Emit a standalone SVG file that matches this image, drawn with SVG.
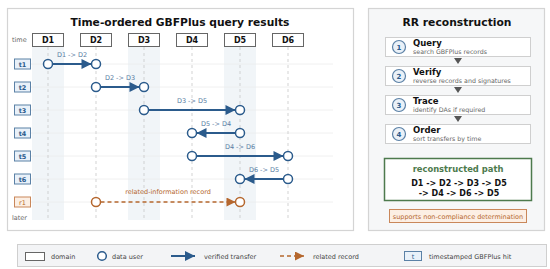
<svg xmlns="http://www.w3.org/2000/svg" width="550" height="269" viewBox="0 0 550 269">
<defs>
<marker id="ab" viewBox="0 0 10 10" refX="10" refY="5" markerWidth="13" markerHeight="10" markerUnits="userSpaceOnUse" orient="auto"><path d="M0,0 L10,5 L0,10 Z" fill="#2b5b8c"/></marker>
<marker id="ao" viewBox="0 0 10 10" refX="10" refY="5" markerWidth="11" markerHeight="9" markerUnits="userSpaceOnUse" orient="auto"><path d="M0,0 L10,5 L0,10 Z" fill="#b5672e"/></marker>
</defs>
<style>
text{font-family:"DejaVu Sans","Liberation Sans",sans-serif}
.panel{fill:#fff;stroke:#d4d4d4;stroke-width:1.2}
.title{font-size:11px;font-weight:bold;fill:#111;text-anchor:middle}
.dom{fill:#fff;stroke:#666;stroke-width:1}
.domt{font-size:8px;font-weight:bold;fill:#111;text-anchor:middle}
.band{fill:#eef2f6;opacity:0.8}
.vl{stroke:#c8c8c8;stroke-width:0.8;stroke-dasharray:3,3}
.hl{stroke:#ececec;stroke-width:0.8}
.tb{fill:#e9f1f9;stroke:#5b81a6;stroke-width:1}
.tt{font-size:6.5px;fill:#2b5b8c;text-anchor:middle;font-weight:bold}
.ob{fill:#fcefe4;stroke:#c9875a;stroke-width:1}
.ot{font-size:6.5px;fill:#b5672e;text-anchor:middle}
.u{fill:#fff;stroke:#2b5b8c;stroke-width:1.5}
.uo{fill:#fff;stroke:#b5672e;stroke-width:1.5}
.tr{stroke:#2b5b8c;stroke-width:2;fill:none}
.rr{stroke:#b5672e;stroke-width:1.5;stroke-dasharray:4,3;fill:none}
.al{font-size:6.5px;fill:#5a7ea3;text-anchor:middle}
.small{font-size:6.5px;fill:#666}
.step{fill:#fff;stroke:#cfcfcf;stroke-width:1}
.nc{fill:#eaf1f8;stroke:#5b81a6;stroke-width:1.2}
.nt{font-size:7px;font-weight:bold;fill:#2b5b8c;text-anchor:middle}
.sh{font-size:8.5px;font-weight:bold;fill:#111}
.ss{font-size:6.3px;fill:#666}
.tri{fill:#555}
.leg{font-size:6.5px;fill:#444}
</style>
<rect class="panel" x="7.5" y="8.5" width="346" height="222"/>
<rect x="368.5" y="8.5" width="176" height="222" fill="#f6f7f8" stroke="#d4d4d4" stroke-width="1.2"/>
<text class="title" x="180" y="26" textLength="219" lengthAdjust="spacingAndGlyphs">Time-ordered GBFPlus query results</text>
<text class="title" x="457" y="26" textLength="109" lengthAdjust="spacingAndGlyphs">RR reconstruction</text>
<g id="grid">
<rect class="band" x="32" y="47" width="32" height="173"/>
<rect class="band" x="128" y="47" width="32" height="173"/>
<rect class="band" x="224" y="47" width="32" height="173"/>
<line class="hl" x1="30" y1="64" x2="333" y2="64"/>
<line class="hl" x1="30" y1="87" x2="333" y2="87"/>
<line class="hl" x1="30" y1="110" x2="333" y2="110"/>
<line class="hl" x1="30" y1="133" x2="333" y2="133"/>
<line class="hl" x1="30" y1="156" x2="333" y2="156"/>
<line class="hl" x1="30" y1="179" x2="333" y2="179"/>
<line class="hl" x1="30" y1="202" x2="333" y2="202"/>
<line class="vl" x1="48" y1="47" x2="48" y2="220"/>
<line class="vl" x1="96" y1="47" x2="96" y2="220"/>
<line class="vl" x1="144" y1="47" x2="144" y2="220"/>
<line class="vl" x1="192" y1="47" x2="192" y2="220"/>
<line class="vl" x1="240" y1="47" x2="240" y2="220"/>
<line class="vl" x1="288" y1="47" x2="288" y2="220"/>
</g>
<text class="small" x="12" y="42">time</text>
<text class="small" x="12" y="220">later</text>
<g id="D1"><rect class="dom" x="32.5" y="33.5" width="31" height="13"/><text class="domt" x="48" y="43">D1</text></g>
<g id="D2"><rect class="dom" x="80.5" y="33.5" width="31" height="13"/><text class="domt" x="96" y="43">D2</text></g>
<g id="D3"><rect class="dom" x="128.5" y="33.5" width="31" height="13"/><text class="domt" x="144" y="43">D3</text></g>
<g id="D4"><rect class="dom" x="176.5" y="33.5" width="31" height="13"/><text class="domt" x="192" y="43">D4</text></g>
<g id="D5"><rect class="dom" x="224.5" y="33.5" width="31" height="13"/><text class="domt" x="240" y="43">D5</text></g>
<g id="D6"><rect class="dom" x="272.5" y="33.5" width="31" height="13"/><text class="domt" x="288" y="43">D6</text></g>
<g id="t1"><rect class="tb" x="14.5" y="59" width="16" height="10"/><text class="tt" x="22.5" y="66.5">t1</text></g>
<g id="t2"><rect class="tb" x="14.5" y="82" width="16" height="10"/><text class="tt" x="22.5" y="89.5">t2</text></g>
<g id="t3"><rect class="tb" x="14.5" y="105" width="16" height="10"/><text class="tt" x="22.5" y="112.5">t3</text></g>
<g id="t4"><rect class="tb" x="14.5" y="128" width="16" height="10"/><text class="tt" x="22.5" y="135.5">t4</text></g>
<g id="t5"><rect class="tb" x="14.5" y="151" width="16" height="10"/><text class="tt" x="22.5" y="158.5">t5</text></g>
<g id="t6"><rect class="tb" x="14.5" y="174" width="16" height="10"/><text class="tt" x="22.5" y="181.5">t6</text></g>
<g id="r1"><rect class="ob" x="14.5" y="197" width="16" height="10"/><text class="ot" x="22.5" y="204.5">r1</text></g>
<g id="connectors">
<line class="tr" x1="52.5" y1="64" x2="91.5" y2="64" marker-end="url(#ab)"/>
<line class="tr" x1="100.5" y1="87" x2="139.5" y2="87" marker-end="url(#ab)"/>
<line class="tr" x1="148.5" y1="110" x2="235.5" y2="110" marker-end="url(#ab)"/>
<line class="tr" x1="235.5" y1="133" x2="196.5" y2="133" marker-end="url(#ab)"/>
<line class="tr" x1="196.5" y1="156" x2="283.5" y2="156" marker-end="url(#ab)"/>
<line class="tr" x1="283.5" y1="179" x2="244.5" y2="179" marker-end="url(#ab)"/>
<line class="rr" x1="100.5" y1="202" x2="235.5" y2="202" marker-end="url(#ao)"/>
<text class="al" x="72" y="57">D1 -&gt; D2</text>
<text class="al" x="120" y="80">D2 -&gt; D3</text>
<text class="al" x="192" y="103">D3 -&gt; D5</text>
<text class="al" x="216" y="126">D5 -&gt; D4</text>
<text class="al" x="240" y="149">D4 -&gt; D6</text>
<text class="al" x="264" y="172">D6 -&gt; D5</text>
<text class="ot" x="168" y="194">related-information record</text>
</g>
<g id="users">
<circle class="u" cx="48" cy="64" r="4.5"/><circle class="u" cx="96" cy="64" r="4.5"/>
<circle class="u" cx="96" cy="87" r="4.5"/><circle class="u" cx="144" cy="87" r="4.5"/>
<circle class="u" cx="144" cy="110" r="4.5"/><circle class="u" cx="240" cy="110" r="4.5"/>
<circle class="u" cx="240" cy="133" r="4.5"/><circle class="u" cx="192" cy="133" r="4.5"/>
<circle class="u" cx="192" cy="156" r="4.5"/><circle class="u" cx="288" cy="156" r="4.5"/>
<circle class="u" cx="288" cy="179" r="4.5"/><circle class="u" cx="240" cy="179" r="4.5"/>
<circle class="uo" cx="96" cy="202" r="4.5"/><circle class="uo" cx="240" cy="202" r="4.5"/>
</g>
<g id="step1"><rect class="step" x="385.5" y="37.5" width="145" height="19"/><circle class="nc" cx="399" cy="47" r="6.5"/><text class="nt" x="399" y="49.5">1</text><text class="sh" x="413" y="46">Query</text><text class="ss" x="413" y="54">search GBFPlus records</text></g>
<path class="tri" d="M454,58 L462,58 L458,64 Z"/>
<g id="step2"><rect class="step" x="385.5" y="66.5" width="145" height="19"/><circle class="nc" cx="399" cy="76" r="6.5"/><text class="nt" x="399" y="78.5">2</text><text class="sh" x="413" y="75">Verify</text><text class="ss" x="413" y="83">reverse records and signatures</text></g>
<path class="tri" d="M454,87 L462,87 L458,93 Z"/>
<g id="step3"><rect class="step" x="385.5" y="95.5" width="145" height="19"/><circle class="nc" cx="399" cy="105" r="6.5"/><text class="nt" x="399" y="107.5">3</text><text class="sh" x="413" y="104">Trace</text><text class="ss" x="413" y="112">identify DAs if required</text></g>
<path class="tri" d="M454,116 L462,116 L458,122 Z"/>
<g id="step4"><rect class="step" x="385.5" y="124.5" width="145" height="19"/><circle class="nc" cx="399" cy="134" r="6.5"/><text class="nt" x="399" y="136.5">4</text><text class="sh" x="413" y="133">Order</text><text class="ss" x="413" y="141">sort transfers by time</text></g>
<g id="path"><rect x="384.5" y="158.5" width="147" height="42" fill="#fff" stroke="#4d7a4d" stroke-width="1.5"/>
<text x="458" y="172" font-size="8.4px" font-weight="bold" fill="#4d7a4d" text-anchor="middle">reconstructed path</text>
<text x="459" y="186" font-size="8px" font-weight="bold" fill="#111" text-anchor="middle">D1 -&gt; D2 -&gt; D3 -&gt; D5</text>
<text x="459" y="196" font-size="8px" font-weight="bold" fill="#111" text-anchor="middle">-&gt; D4 -&gt; D6 -&gt; D5</text></g>
<g id="support"><rect class="ob" x="389.5" y="209.5" width="137" height="13"/><text class="ot" x="458" y="218.5">supports non-compliance determination</text></g>
<g id="legend">
<rect x="17.5" y="244.5" width="529" height="22" fill="#f3f4f6" stroke="#cfcfcf" stroke-width="1"/>
<rect x="25.5" y="252.5" width="19" height="8" fill="#fff" stroke="#666" stroke-width="1"/>
<text class="leg" x="51" y="258.5">domain</text>
<circle class="u" cx="102" cy="256" r="4.3"/>
<text class="leg" x="112" y="258.5">data user</text>
<line class="tr" x1="171" y1="256" x2="195" y2="256" marker-end="url(#ab)"/>
<text class="leg" x="204" y="258.5">verified transfer</text>
<line class="rr" x1="280" y1="256" x2="304" y2="256" marker-end="url(#ao)"/>
<text class="leg" x="313" y="258.5">related record</text>
<rect class="tb" x="404.5" y="251.5" width="17" height="9"/>
<text class="tt" x="413" y="258.5" style="font-weight:normal">t</text>
<text class="leg" x="429" y="258.5">timestamped GBFPlus hit</text>
</g>
</svg>
